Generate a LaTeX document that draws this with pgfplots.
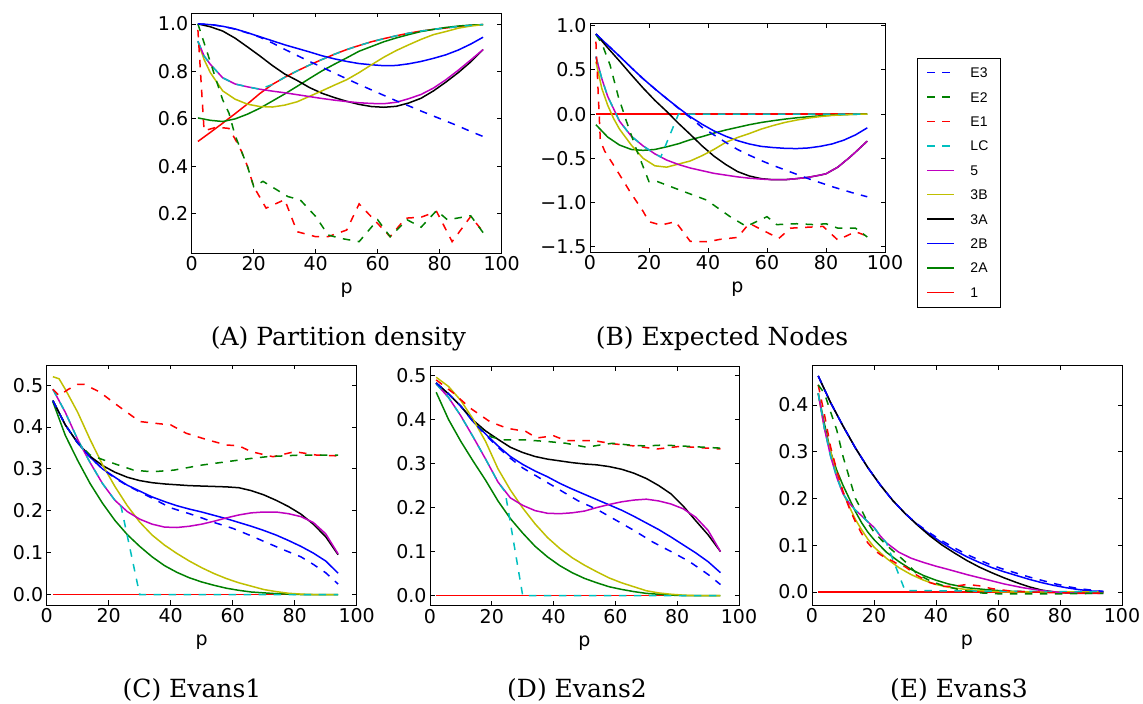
\documentclass[border=0pt]{standalone}
\usepackage{fontspec}
\usepackage{pgfplots}
\pgfplotsset{compat=1.18}
\newfontfamily\dejavu{DejaVu Sans}
\newfontfamily\dejavuserif{DejaVu Serif}
\newfontfamily\libsans{Liberation Sans}
\newcommand\tickfont{\dejavu\fontsize{19bp}{22bp}\selectfont}
\newcommand\legfont{\libsans\fontsize{14bp}{16bp}\selectfont}
\newcommand\capfont{\dejavuserif\fontsize{25bp}{30bp}\selectfont}
\definecolor{mr}{rgb}{1,0,0}
\definecolor{mg}{rgb}{0,0.5,0}
\definecolor{mb}{rgb}{0,0,1}
\definecolor{mc}{rgb}{0,0.75,0.75}
\definecolor{mm}{rgb}{0.75,0,0.75}
\definecolor{my}{rgb}{0.75,0.75,0}
\tikzset{
  dsh/.style={dash pattern=on 7.5bp off 7.5bp},
  c1/.style={color=mr},
  c2A/.style={color=mg},
  c2B/.style={color=mb},
  c3A/.style={color=black},
  c3B/.style={color=my},
  c5/.style={color=mm},
  cLC/.style={color=mc,dsh},
  cE1/.style={color=mr,dsh},
  cE2/.style={color=mg,dsh},
  cE3/.style={color=mb,dsh},
}
\pgfplotsset{
  panel/.style={
    scale only axis, anchor=south west, xmin=0, xmax=100,
    xtick={0,20,40,60,80,100}, xticklabels={0,20,40,60,80,100},
    tick align=inside, major tick length=4.5bp,
    axis line style={line width=0.9bp, black},
    tick style={line width=0.8bp, black},
    ticklabel style={font=\tickfont},
    xlabel={p},
    xlabel style={font=\tickfont, at={(axis description cs:0.5,0)}, anchor=base, yshift=-40.7bp},
    every axis plot/.append style={line width=1.5bp},
  },
}
\begin{document}
\begin{tikzpicture}
\useasboundingbox (0,0) rectangle (1143bp,704bp);

% ---------------- (A) Partition density
\begin{axis}[panel, at={(191.7bp,450.7bp)}, width=310bp, height=240.3bp,
  ymin=0.034, ymax=1.046, ytick={0.2,0.4,0.6,0.8,1.0}, yticklabels={0.2,0.4,0.6,0.8,1.0}]
\addplot[c1] coordinates {(2,.505)(6,.543)(10,.582)(14,.622)(18,.663)(22,.707)(26,.745)(30,.775)(34,.802)(38,.827)(42,.85)(46,.872)(50,.892)(54,.909)(58,.925)(62,.938)(66,.95)(70,.961)(74,.97)(78,.977)(82,.983)(86,.989)(90,.994)(94,.997)};
\addplot[c2A] coordinates {(2,.604)(6,.594)(10,.589)(14,.6)(18,.62)(22,.645)(26,.675)(30,.705)(34,.737)(38,.77)(42,.802)(46,.83)(50,.857)(54,.885)(58,.905)(62,.925)(66,.941)(70,.955)(74,.968)(78,.977)(82,.985)(86,.991)(90,.995)(94,.997)};
\addplot[c2B] coordinates {(2,1)(6,.997)(10,.99)(14,.979)(18,.963)(22,.946)(26,.929)(30,.912)(34,.897)(38,.882)(42,.866)(46,.853)(50,.842)(54,.833)(58,.828)(62,.824)(66,.825)(70,.832)(74,.842)(78,.855)(82,.87)(86,.89)(90,.915)(94,.944)};
\addplot[c3A] coordinates {(2,1)(6,.988)(10,.97)(14,.94)(18,.903)(22,.865)(26,.825)(30,.789)(34,.762)(38,.732)(42,.708)(46,.69)(50,.674)(54,.661)(58,.652)(62,.649)(66,.653)(70,.667)(74,.687)(78,.718)(82,.755)(86,.795)(90,.84)(94,.892)};
\addplot[c3B] coordinates {(2,.927)(4,.85)(6,.795)(10,.718)(14,.683)(18,.662)(22,.652)(26,.65)(30,.658)(34,.672)(38,.695)(42,.718)(46,.742)(50,.765)(54,.795)(58,.828)(62,.86)(66,.888)(70,.912)(74,.935)(78,.955)(82,.968)(86,.982)(90,.991)(94,.997)};
\addplot[c5] coordinates {(2,.927)(4,.865)(6,.83)(10,.773)(14,.747)(18,.735)(22,.725)(26,.717)(30,.71)(34,.702)(38,.694)(42,.686)(46,.679)(50,.673)(54,.668)(58,.665)(62,.664)(66,.67)(70,.685)(74,.703)(78,.73)(82,.765)(86,.805)(90,.848)(94,.892)};
\addplot[cLC] coordinates {(2,.927)(4,.865)(6,.83)(10,.773)(14,.747)(18,.735)(22,.725)(26,.745)(30,.775)(34,.802)(38,.827)(42,.85)(46,.872)(50,.892)(54,.909)(58,.925)(62,.938)(66,.95)(70,.961)(74,.97)(78,.977)(82,.983)(86,.989)(90,.994)(94,.997)};
\addplot[cE1] coordinates {(2,.975)(4,.55)(8,.565)(12,.56)(14,.515)(16,.465)(18,.4)(20,.315)(24,.224)(30,.26)(34,.125)(40,.104)(44,.104)(50,.132)(54,.242)(64,.104)(69,.182)(74,.186)(79,.21)(84,.083)(90,.189)(94,.125)};
\addplot[cE2] coordinates {(2,1)(6,.84)(10,.68)(12,.625)(14,.53)(16,.465)(18,.4)(20,.315)(23,.337)(31,.273)(35,.259)(40,.189)(44,.111)(48,.097)(54,.083)(60,.175)(64,.104)(69.5,.175)(74,.144)(79,.214)(82.5,.175)(90,.192)(94,.121)};
\addplot[cE3] coordinates {(2,1)(6,.998)(10,.99)(14,.978)(18,.962)(22,.944)(26,.92)(30,.893)(34,.867)(38,.842)(42,.818)(46,.793)(50,.769)(54,.745)(58,.722)(62,.699)(66,.676)(70,.655)(74,.633)(78,.612)(82,.591)(86,.57)(90,.547)(94,.526)};
\end{axis}

% ---------------- (B) Expected Nodes
\begin{axis}[panel, at={(590bp,451.7bp)}, width=295bp, height=229bp,
  ymin=-1.563, ymax=1.027, ytick={-1.5,-1,-0.5,0,0.5,1}, yticklabels={−1.5,−1.0,−0.5,0.0,0.5,1.0},
  legend entries={E3,E2,E1,LC,5,3B,3A,2B,2A,1},
  legend image code/.code={\draw[#1] (0bp,0bp) -- (27bp,0bp);},
  legend style={at={(1.108,0.85)}, anchor=north west, draw=black, line width=0.8bp, fill=white,
    font=\legfont, inner xsep=9bp, inner ysep=8.7bp, row sep=12.4bp, column sep=14.7bp,
    nodes={font=\legfont, text height=10bp, text depth=0bp, inner sep=1bp},
    /tikz/column 2/.style={nodes={text width=20bp}}},
  legend cell align=left]
\addlegendimage{cE3, line width=1.5bp}
\addlegendimage{cE2, line width=1.5bp}
\addlegendimage{cE1, line width=1.5bp}
\addlegendimage{cLC, line width=1.5bp}
\addlegendimage{c5, line width=1.5bp}
\addlegendimage{c3B, line width=1.5bp}
\addlegendimage{c3A, line width=1.5bp}
\addlegendimage{c2B, line width=1.5bp}
\addlegendimage{c2A, line width=1.5bp}
\addlegendimage{c1, line width=1.5bp}
\addplot[c1] coordinates {(2,0)(94,0)};
\addplot[c2A] coordinates {(2,-.12)(6,-.26)(10,-.35)(14,-.40)(18,-.41)(22,-.40)(26,-.37)(30,-.335)(34,-.29)(38,-.255)(42,-.215)(46,-.18)(50,-.15)(54,-.12)(58,-.095)(62,-.075)(66,-.057)(70,-.042)(74,-.03)(78,-.02)(82,-.012)(86,-.006)(90,-.002)(94,0)};
\addplot[c2B] coordinates {(2,.906)(6,.78)(10,.655)(14,.525)(18,.40)(22,.285)(26,.175)(30,.07)(34,-.03)(38,-.115)(42,-.19)(46,-.25)(50,-.30)(54,-.338)(58,-.365)(62,-.378)(66,-.387)(70,-.39)(74,-.383)(78,-.365)(82,-.338)(86,-.295)(90,-.235)(94,-.155)};
\addplot[c3A] coordinates {(2,.906)(6,.75)(10,.60)(14,.445)(18,.295)(22,.155)(26,.03)(30,-.105)(34,-.23)(38,-.36)(42,-.475)(46,-.57)(50,-.65)(54,-.70)(58,-.73)(62,-.742)(66,-.742)(70,-.73)(74,-.715)(78,-.69)(80,-.675)(84,-.60)(88,-.49)(90,-.43)(94,-.305)};
\addplot[c3B] coordinates {(2,.593)(4,.29)(6,.10)(8,-.05)(10,-.17)(14,-.35)(18,-.50)(22,-.585)(26,-.60)(30,-.565)(34,-.53)(38,-.47)(42,-.40)(46,-.32)(50,-.265)(54,-.22)(58,-.17)(62,-.13)(66,-.095)(70,-.068)(74,-.045)(78,-.028)(82,-.015)(86,-.007)(90,-.002)(94,0)};
\addplot[c5] coordinates {(2,.65)(4,.40)(6,.20)(8,.06)(10,-.08)(14,-.25)(18,-.36)(22,-.45)(26,-.52)(30,-.57)(34,-.61)(38,-.64)(42,-.67)(46,-.69)(50,-.71)(54,-.725)(58,-.735)(62,-.742)(66,-.742)(70,-.73)(74,-.715)(78,-.69)(80,-.675)(84,-.60)(88,-.49)(90,-.43)(94,-.305)};
\addplot[cLC] coordinates {(2,.65)(4,.40)(6,.20)(8,.06)(10,-.08)(14,-.25)(18,-.36)(22,-.45)(24,-.485)(30,0)(94,0)};
\addplot[cE1] coordinates {(2,.82)(3.5,-.3)(5,-.42)(9,-.63)(13.6,-.88)(18,-1.1)(20,-1.217)(24,-1.255)(29,-1.217)(34,-1.44)(40,-1.444)(44,-1.417)(50,-1.395)(54,-1.236)(64,-1.406)(68,-1.29)(79,-1.27)(84,-1.424)(90,-1.33)(94,-1.38)};
\addplot[cE2] coordinates {(2,.9)(4,.8)(6.8,.555)(9.6,.197)(12.4,-.086)(15.8,-.406)(20,-.765)(23,-.765)(30.5,-.86)(39.5,-.972)(47.5,-1.16)(53,-1.27)(60,-1.16)(63.3,-1.25)(70,-1.24)(76,-1.25)(80,-1.24)(84,-1.29)(90,-1.29)(94,-1.39)};
\addplot[cE3] coordinates {(2,.906)(6,.78)(10,.655)(14,.525)(18,.40)(22,.285)(26,.175)(30,.065)(34,-.04)(38,-.15)(42,-.235)(46,-.32)(50,-.40)(54,-.465)(58,-.525)(62,-.58)(66,-.63)(70,-.68)(74,-.73)(78,-.775)(82,-.82)(86,-.86)(90,-.90)(94,-.935)};
\end{axis}

% ---------------- (C) Evans1
\begin{axis}[panel, at={(46.7bp,99bp)}, width=310bp, height=240bp,
  ymin=-0.025, ymax=0.548, ytick={0,0.1,0.2,0.3,0.4,0.5}, yticklabels={0.0,0.1,0.2,0.3,0.4,0.5}]
\addplot[c1] coordinates {(2,0)(94,0)};
\addplot[c2A] coordinates {(2,.46)(6,.38)(10,.32)(14,.265)(18,.218)(22,.177)(26,.143)(30,.115)(34,.09)(38,.069)(42,.053)(46,.04)(50,.03)(54,.022)(58,.015)(62,.01)(66,.006)(70,.004)(74,.002)(78,.001)(82,0)(94,0)};
\addplot[c2B] coordinates {(2,.463)(6,.405)(10,.362)(14,.328)(18,.30)(22,.28)(26,.261)(30,.247)(34,.233)(38,.222)(42,.212)(46,.204)(50,.197)(54,.189)(58,.181)(62,.172)(66,.163)(70,.153)(74,.142)(78,.129)(82,.115)(86,.099)(90,.08)(94,.051)};
\addplot[c3A] coordinates {(2,.463)(6,.405)(10,.362)(14,.33)(18,.308)(22,.292)(26,.28)(30,.272)(34,.267)(38,.264)(42,.262)(46,.26)(50,.259)(54,.258)(58,.257)(62,.255)(66,.248)(70,.238)(74,.225)(78,.21)(82,.192)(86,.168)(90,.138)(94,.095)};
\addplot[c3B] coordinates {(2,.52)(4,.515)(6,.49)(10,.435)(14,.37)(18,.31)(22,.258)(26,.212)(30,.173)(34,.142)(38,.118)(42,.098)(46,.08)(50,.064)(54,.05)(58,.038)(62,.028)(66,.02)(70,.012)(74,.007)(78,.003)(82,.001)(86,0)(94,0)};
\addplot[c5] coordinates {(2,.49)(6,.435)(10,.37)(14,.315)(18,.265)(22,.225)(26,.198)(30,.18)(34,.168)(38,.161)(42,.16)(46,.163)(50,.168)(54,.175)(58,.183)(62,.19)(66,.195)(70,.197)(74,.197)(78,.193)(82,.186)(86,.172)(90,.145)(94,.097)};
\addplot[cLC] coordinates {(2,.49)(6,.435)(10,.37)(14,.315)(18,.265)(22,.225)(24,.21)(30,0)(94,0)};
\addplot[cE1] coordinates {(2,.49)(4,.475)(7,.49)(10,.502)(12,.502)(17,.484)(22,.456)(30,.413)(36,.408)(40,.405)(45,.385)(52,.369)(58,.357)(62,.355)(66,.341)(73,.329)(80,.341)(87,.333)(94,.331)};
\addplot[cE2] coordinates {(2,.463)(6,.405)(10,.362)(14,.333)(20,.317)(28,.297)(34,.293)(41,.297)(50,.309)(58,.317)(66,.325)(71,.329)(82,.333)(94,.333)};
\addplot[cE3] coordinates {(2,.463)(6,.405)(10,.362)(14,.328)(18,.30)(22,.278)(26,.26)(30,.245)(34,.23)(40,.207)(46,.193)(50,.183)(54,.172)(60,.158)(66,.14)(70,.127)(76,.108)(82,.09)(86,.072)(90,.052)(94,.025)};
\end{axis}

% ---------------- (D) Evans2
\begin{axis}[panel, at={(430bp,98.3bp)}, width=309bp, height=239bp,
  ymin=-0.023, ymax=0.52, ytick={0,0.1,0.2,0.3,0.4,0.5}, yticklabels={0.0,0.1,0.2,0.3,0.4,0.5}]
\addplot[c1] coordinates {(2,0)(94,0)};
\addplot[c2A] coordinates {(2,.462)(6,.40)(10,.35)(14,.305)(18,.262)(22,.215)(26,.175)(30,.142)(34,.112)(38,.088)(42,.068)(46,.052)(50,.039)(54,.029)(58,.02)(62,.014)(66,.009)(70,.005)(74,.003)(78,.001)(82,0)(94,0)};
\addplot[c2B] coordinates {(2,.483)(6,.458)(10,.43)(14,.395)(18,.367)(22,.34)(26,.316)(30,.298)(34,.283)(38,.27)(42,.255)(46,.242)(50,.23)(54,.218)(58,.206)(62,.194)(66,.18)(70,.165)(74,.15)(78,.133)(82,.115)(86,.097)(90,.077)(94,.052)};
\addplot[c3A] coordinates {(2,.483)(6,.458)(10,.43)(14,.398)(18,.374)(22,.355)(26,.337)(30,.325)(34,.316)(38,.31)(42,.306)(46,.302)(50,.299)(54,.297)(58,.293)(62,.287)(66,.278)(70,.266)(74,.25)(78,.231)(82,.203)(86,.17)(90,.138)(94,.10)};
\addplot[c3B] coordinates {(2,.496)(6,.475)(10,.443)(14,.40)(18,.35)(22,.288)(26,.24)(30,.199)(34,.163)(38,.132)(42,.107)(46,.086)(50,.069)(54,.054)(58,.04)(62,.029)(66,.02)(70,.011)(74,.006)(78,.003)(82,.001)(86,0)(94,0)};
\addplot[c5] coordinates {(2,.481)(6,.45)(10,.408)(14,.36)(18,.31)(22,.258)(26,.222)(30,.205)(34,.193)(38,.187)(42,.186)(46,.188)(50,.192)(54,.20)(58,.207)(62,.213)(66,.217)(70,.219)(74,.215)(78,.208)(82,.197)(86,.178)(90,.148)(94,.10)};
\addplot[cLC] coordinates {(2,.481)(6,.45)(10,.408)(14,.36)(18,.31)(22,.258)(24.3,.236)(30,0)(94,0)};
\addplot[cE1] coordinates {(2,.49)(7.6,.46)(13,.426)(19.4,.395)(25,.38)(31,.373)(34.5,.358)(40,.363)(44,.352)(53,.352)(59,.345)(66,.34)(73.4,.333)(81,.339)(94,.333)};
\addplot[cE2] coordinates {(2,.483)(6,.458)(10,.43)(14,.395)(17.3,.373)(20,.36)(23.7,.354)(30,.354)(38,.35)(44,.346)(50.7,.337)(55,.342)(59,.346)(66,.341)(70,.34)(75.5,.342)(81,.34)(94,.335)};
\addplot[cE3] coordinates {(2,.483)(6,.458)(10,.43)(14,.395)(18,.365)(22,.337)(26,.312)(30,.29)(36,.265)(42,.24)(48,.215)(54,.196)(60,.172)(66,.148)(72,.122)(78,.10)(84,.077)(90,.048)(94,.025)};
\end{axis}

% ---------------- (E) Evans3
\begin{axis}[panel, at={(812bp,99bp)}, width=310bp, height=239.3bp,
  ymin=-0.028, ymax=0.484, ytick={0,0.1,0.2,0.3,0.4}, yticklabels={0.0,0.1,0.2,0.3,0.4}]
\addplot[c1] coordinates {(2,0)(94,0)};
\addplot[c2A] coordinates {(2,.425)(4,.36)(6,.30)(8,.26)(10,.228)(12,.2)(14,.172)(16,.148)(18,.128)(20,.112)(24,.085)(28,.065)(32,.048)(36,.035)(40,.025)(44,.017)(50,.009)(56,.005)(62,.002)(70,0)(94,0)};
\addplot[c2B] coordinates {(2,.462)(6,.405)(10,.355)(14,.308)(18,.266)(22,.229)(26,.196)(30,.168)(34,.144)(38,.123)(42,.105)(46,.089)(50,.075)(54,.063)(58,.052)(62,.043)(66,.035)(70,.027)(74,.02)(78,.014)(82,.009)(86,.005)(90,.002)(94,.001)};
\addplot[c3A] coordinates {(2,.462)(6,.405)(10,.355)(14,.308)(18,.266)(22,.229)(26,.196)(30,.168)(34,.143)(38,.12)(42,.10)(46,.083)(50,.067)(54,.053)(58,.041)(62,.03)(66,.02)(70,.011)(74,.004)(78,0)(82,-.002)(86,-.002)(90,-.002)(94,-.001)};
\addplot[c3B] coordinates {(2,.425)(4,.35)(6,.30)(8,.25)(10,.212)(12,.183)(14,.155)(16,.133)(18,.113)(20,.096)(24,.072)(28,.052)(32,.037)(36,.025)(40,.016)(44,.01)(50,.005)(56,.002)(62,0)(94,0)};
\addplot[c5] coordinates {(2,.425)(4,.35)(6,.29)(8,.245)(10,.21)(12,.19)(14,.175)(16,.163)(18,.15)(20,.138)(22,.12)(24,.105)(28,.085)(32,.072)(36,.063)(40,.055)(44,.048)(50,.037)(56,.027)(62,.017)(68,.009)(74,.003)(80,-.001)(86,-.003)(94,-.003)};
\addplot[cLC] coordinates {(2,.425)(4,.35)(6,.29)(8,.245)(10,.21)(12,.19)(14,.175)(16,.163)(18,.15)(20,.138)(22,.12)(24,.105)(30,.003)(94,0)};
\addplot[cE1] coordinates {(2,.443)(4,.38)(6,.31)(8,.26)(10,.215)(12,.18)(14,.15)(16,.125)(18,.105)(20,.09)(22,.08)(24,.072)(26,.066)(28,.058)(30,.054)(34,.035)(38,.02)(42,.012)(46,.012)(50,.016)(54,.013)(58,.007)(64,.002)(70,0)(80,-.002)(94,-.003)};
\addplot[cE2] coordinates {(2,.443)(4,.425)(6,.385)(8,.346)(10,.29)(12,.245)(14,.2)(16,.175)(18,.148)(20,.128)(24,.10)(28,.077)(30,.065)(34,.038)(38,.024)(42,.014)(48,.004)(54,-.002)(60,-.004)(70,-.004)(80,-.004)(94,-.003)};
\addplot[cE3] coordinates {(2,.462)(6,.405)(10,.355)(14,.308)(18,.266)(22,.229)(26,.196)(30,.168)(34,.145)(38,.126)(42,.109)(46,.094)(50,.08)(54,.068)(58,.057)(62,.048)(66,.04)(70,.032)(74,.025)(78,.018)(82,.012)(86,.007)(90,.004)(94,.001)};
\end{axis}

% ---------------- captions
\node[font=\capfont, anchor=base] at (338.5bp,358.2bp) {(A) Partition density};
\node[font=\capfont, anchor=base] at (722bp,358.2bp) {(B) Expected Nodes};
\node[font=\capfont, anchor=base] at (192bp,6.5bp) {(C) Evans1};
\node[font=\capfont, anchor=base] at (577bp,6.5bp) {(D) Evans2};
\node[font=\capfont, anchor=base] at (959bp,6.5bp) {(E) Evans3};
\end{tikzpicture}
\end{document}
